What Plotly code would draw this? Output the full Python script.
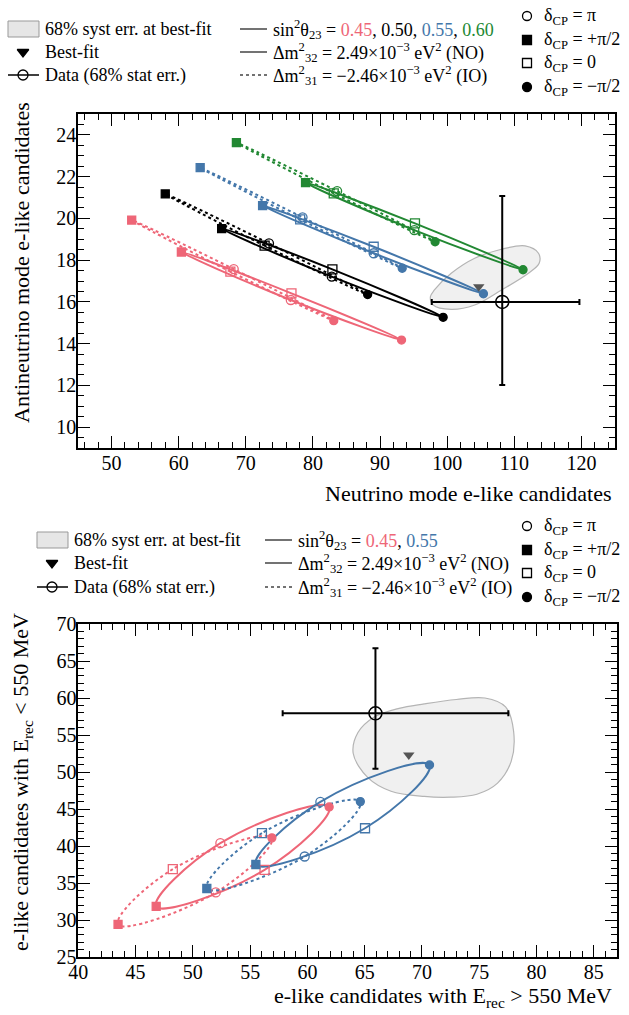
import plotly.graph_objects as go

W, H = 629, 1015
FONT = "'Liberation Serif', 'DejaVu Serif', 'Times New Roman', serif"

# ---------------- data ----------------
# delta_CP order in every point list: -pi/2, 0, +pi/2, pi
delta_symbols = ["circle", "square-open", "square", "circle-open"]

theta_top = ["0.45", "0.50", "0.55", "0.60"]
col_top = ["#EE6677", "#000000", "#4477AA", "#228833"]

top_no_x = [[93.2, 76.8, 60.4, 76.7], [99.4, 82.9, 66.4, 82.8],
            [105.4, 89.05, 72.5, 89.05], [111.3, 95.2, 78.9, 95.1]]
top_no_y = [[14.17, 16.41, 18.39, 16.09], [15.26, 17.56, 19.51, 17.21],
            [16.39, 18.64, 20.61, 18.33], [17.54, 19.76, 21.71, 19.44]]
top_io_x = [[83.1, 67.7, 53.0, 68.2], [88.15, 72.8, 58.0, 73.45],
            [93.3, 78.1, 63.2, 78.45], [98.2, 83.1, 68.6, 83.6]]
top_io_y = [[15.1, 17.45, 19.92, 17.57], [16.35, 18.69, 21.17, 18.8],
            [17.61, 19.95, 22.43, 20.05], [18.88, 21.2, 23.63, 21.31]]

top_data_x, top_data_y = [108.2], [16.0]
top_data_ex_minus, top_data_ex_plus = [10.5], [11.5]
top_data_ey_minus, top_data_ey_plus = [3.98], [5.07]
top_bf_x, top_bf_y = [104.7], [16.73]
top_syst_x = [97.5, 98.1, 100.6, 104.1, 108.1, 111.6, 113.6, 113.7, 112.1,
              108.1, 104.1, 100.6, 97.9]
top_syst_y = [16.25, 16.57, 17.37, 18.09, 18.52, 18.68, 18.33, 17.85, 17.37,
              16.57, 15.85, 15.64, 15.85]

theta_bot = ["0.45", "0.55"]
col_bot = ["#EE6677", "#4477AA"]
bot_no_x = [[61.9, 56.26, 46.8, 52.4], [70.66, 65.03, 55.5, 61.13]]
bot_no_y = [[45.28, 36.78, 31.83, 40.38], [50.95, 42.4, 37.5, 45.96]]
bot_io_x = [[56.9, 48.25, 43.47, 52.0], [64.62, 56.03, 51.22, 59.76]]
bot_io_y = [[41.1, 36.87, 29.4, 33.72], [46.0, 41.73, 34.26, 38.58]]

bot_data_x, bot_data_y = [65.94], [57.93]
bot_data_ex_minus, bot_data_ex_plus = [8.1], [11.6]
bot_data_ey_minus, bot_data_ey_plus = [7.5], [8.8]
bot_bf_x, bot_bf_y = [68.85], [52.3]
bot_syst_x = [64.0, 64.4, 65.8, 68.0, 70.2, 73.0, 75.5, 77.3, 78.0, 77.8,
              76.6, 74.8, 72.5, 70.2, 67.3, 65.3]
bot_syst_y = [52.5, 55.3, 57.4, 58.6, 59.2, 59.8, 60.0, 58.8, 55.5, 51.5,
              48.5, 47.0, 46.6, 46.7, 47.4, 49.2]

# ---------------- figure ----------------
fig = go.Figure()


def closed(v):
    return list(v) + [v[0]]


def add_panel(xa, ya, sx, sy, nox, noy, iox, ioy, cols, dx, dy, exm, exp, eym, eyp, bfx, bfy):
    fig.add_trace(go.Scatter(x=closed(sx), y=closed(sy), xaxis=xa, yaxis=ya, mode="lines",
                             line=dict(color="#b4b4b4", width=1.2, shape="spline", smoothing=1.0),
                             fill="toself", fillcolor="#f0f0f0", hoverinfo="skip"))
    for i, c in enumerate(cols):
        for xs, ys, dash in ((iox[i], ioy[i], "3px,3px"), (nox[i], noy[i], "solid")):
            fig.add_trace(go.Scatter(x=closed(xs), y=closed(ys), xaxis=xa, yaxis=ya, mode="lines",
                                     line=dict(color=c, width=2, dash=dash, shape="spline", smoothing=1.3)))
    for i, c in enumerate(cols):
        for xs, ys in ((iox[i], ioy[i]), (nox[i], noy[i])):
            fig.add_trace(go.Scatter(x=xs, y=ys, xaxis=xa, yaxis=ya, mode="markers",
                                     marker=dict(symbol=delta_symbols, size=[8, 9, 8, 9], color=c,
                                                 opacity=1, line=dict(color=c, width=1.3))))
    fig.add_trace(go.Scatter(x=bfx, y=bfy, xaxis=xa, yaxis=ya, mode="markers",
                             marker=dict(symbol="triangle-down", size=10, color="#555555")))
    fig.add_trace(go.Scatter(x=dx, y=dy, xaxis=xa, yaxis=ya, mode="markers",
                             marker=dict(symbol="circle-open", size=13, color="black",
                                         line=dict(color="black", width=1.5)),
                             error_x=dict(type="data", symmetric=False, array=exp, arrayminus=exm,
                                          color="black", thickness=2, width=3),
                             error_y=dict(type="data", symmetric=False, array=eyp, arrayminus=eym,
                                          color="black", thickness=2, width=3)))


add_panel("x", "y", top_syst_x, top_syst_y, top_no_x, top_no_y, top_io_x, top_io_y, col_top,
          top_data_x, top_data_y, top_data_ex_minus, top_data_ex_plus,
          top_data_ey_minus, top_data_ey_plus, top_bf_x, top_bf_y)
add_panel("x2", "y2", bot_syst_x, bot_syst_y, bot_no_x, bot_no_y, bot_io_x, bot_io_y, col_bot,
          bot_data_x, bot_data_y, bot_data_ex_minus, bot_data_ex_plus,
          bot_data_ey_minus, bot_data_ey_plus, bot_bf_x, bot_bf_y)

# ---------------- legends (pixel overlay axis) ----------------
annots = []
LEG = 18


def leg_text(x, y, text, size=LEG):
    annots.append(dict(xref="x3", yref="y3", x=x, y=y, text=text, showarrow=False,
                       xanchor="left", yanchor="middle", font=dict(family=FONT, size=size, color="black")))


def leg_line(x0, x1, y, dash="solid", color="#444444"):
    fig.add_trace(go.Scatter(x=[x0, x1], y=[y, y], xaxis="x3", yaxis="y3", mode="lines",
                             line=dict(color=color, width=1.5, dash=dash), hoverinfo="skip"))


def leg_marker(x, y, symbol, size=9, color="black"):
    fig.add_trace(go.Scatter(x=[x], y=[y], xaxis="x3", yaxis="y3", mode="markers",
                             marker=dict(symbol=symbol, size=size, color=color,
                                         line=dict(color=color, width=1.3)), hoverinfo="skip"))


def colored(vals, cols):
    parts = []
    for v, c in zip(vals, cols):
        parts.append('<span style="color:%s">%s</span>' % (c, v))
    return ", ".join(parts)


shapes = []


def legend_block(xl, xm, xr, rows, rrows, thetas, cols):
    # left column
    shapes.append(dict(type="rect", xref="x3", yref="y3", x0=xl, x1=xl + 31, y0=rows[0] - 8,
                       y1=rows[0] + 8, fillcolor="#e6e6e6", line=dict(color="#999999", width=1)))
    leg_text(xl + 35, rows[0], "68% syst err. at best-fit")
    leg_marker(xl + 15, rows[1], "triangle-down", size=10)
    leg_text(xl + 35, rows[1], "Best-fit")
    leg_line(xl, xl + 31, rows[2], color="black")
    leg_marker(xl + 15, rows[2], "circle-open", size=10)
    leg_text(xl + 35, rows[2], "Data (68% stat err.)")
    # middle column
    leg_line(xm, xm + 27, rows[0])
    leg_text(xm + 31, rows[0], "sin<sup>2</sup>θ<sub>23</sub> = " + colored(thetas, cols))
    leg_line(xm, xm + 27, rows[1])
    leg_text(xm + 31, rows[1], "Δm<sup>2</sup><sub>32</sub> = 2.49×10<sup>−3</sup> eV<sup>2</sup> (NO)")
    leg_line(xm, xm + 27, rows[2], dash="3px,3px")
    leg_text(xm + 31, rows[2], "Δm<sup>2</sup><sub>31</sub> = −2.46×10<sup>−3</sup> eV<sup>2</sup> (IO)")
    # right column
    syms = ["circle-open", "square", "square-open", "circle"]
    labs = ["δ<sub>CP</sub> = π", "δ<sub>CP</sub> = +π/2", "δ<sub>CP</sub> = 0", "δ<sub>CP</sub> = −π/2"]
    for s, lab, yy in zip(syms, labs, rrows):
        leg_marker(xr, yy, s, size=9)
        leg_text(xr + 15, yy, lab)


legend_block(8, 240, 527, [29, 52, 75], [16, 40, 63, 87], theta_top, col_top)
legend_block(37, 265, 527, [540, 563, 587], [526, 550, 573, 597], theta_bot, col_bot)

# axis titles
TT = 22
annots.append(dict(xref="x3", yref="y3", x=614, y=493, text="Neutrino mode e-like candidates",
                   showarrow=False, xanchor="right", yanchor="middle",
                   font=dict(family=FONT, size=TT, color="black")))
annots.append(dict(xref="x3", yref="y3", x=21, y=263, text="Antineutrino mode e-like candidates",
                   showarrow=False, xanchor="center", yanchor="middle", textangle=-90,
                   font=dict(family=FONT, size=TT, color="black")))
annots.append(dict(xref="x3", yref="y3", x=614, y=997,
                   text="e-like candidates with E<sub>rec</sub> > 550 MeV",
                   showarrow=False, xanchor="right", yanchor="middle",
                   font=dict(family=FONT, size=TT, color="black")))
annots.append(dict(xref="x3", yref="y3", x=22, y=782,
                   text="e-like candidates with E<sub>rec</sub> < 550 MeV",
                   showarrow=False, xanchor="center", yanchor="middle", textangle=-90,
                   font=dict(family=FONT, size=TT, color="black")))


def ax(rng, dom, dtick, mdtick, anchor):
    return dict(range=rng, domain=dom, anchor=anchor, automargin=False, showline=True,
                linecolor="black", linewidth=1.6,
                mirror="ticks", ticks="inside", ticklen=12, tickwidth=1.2, tickcolor="black",
                dtick=dtick, tick0=0, showgrid=False, zeroline=False, ticklabelstandoff=-4,
                minor=dict(ticks="inside", ticklen=6, tickwidth=1, tickcolor="black", dtick=mdtick,
                           showgrid=False),
                tickfont=dict(family=FONT, size=20, color="black"))


fig.update_layout(
    width=W, height=H, autosize=False, showlegend=False,
    margin=dict(l=0, r=0, t=0, b=0, pad=0, autoexpand=False),
    font=dict(family=FONT, color="black"),
    paper_bgcolor="white", plot_bgcolor="rgba(0,0,0,0)",
    xaxis=ax([45, 125], [78 / W, 615 / W], 10, 2, "y"),
    yaxis=ax([9, 25], [1 - 448 / H, 1 - 114 / H], 2, 0.5, "x"),
    xaxis2=ax([40, 87], [78.3 / W, 616.7 / W], 5, 1, "y2"),
    yaxis2=ax([25, 70], [1 - 957 / H, 1 - 624 / H], 5, 1, "x2"),
    xaxis3=dict(range=[0, W], domain=[0, 1], visible=False, fixedrange=True, anchor="y3",
                automargin=False),
    yaxis3=dict(range=[H, 0], domain=[0, 1], visible=False, fixedrange=True, anchor="x3",
                automargin=False),
    annotations=annots, shapes=shapes,
)

fig.write_html("out.html", config={"displayModeBar": False},
               post_script="document.body.style.margin='0';document.body.style.overflow='hidden';")
